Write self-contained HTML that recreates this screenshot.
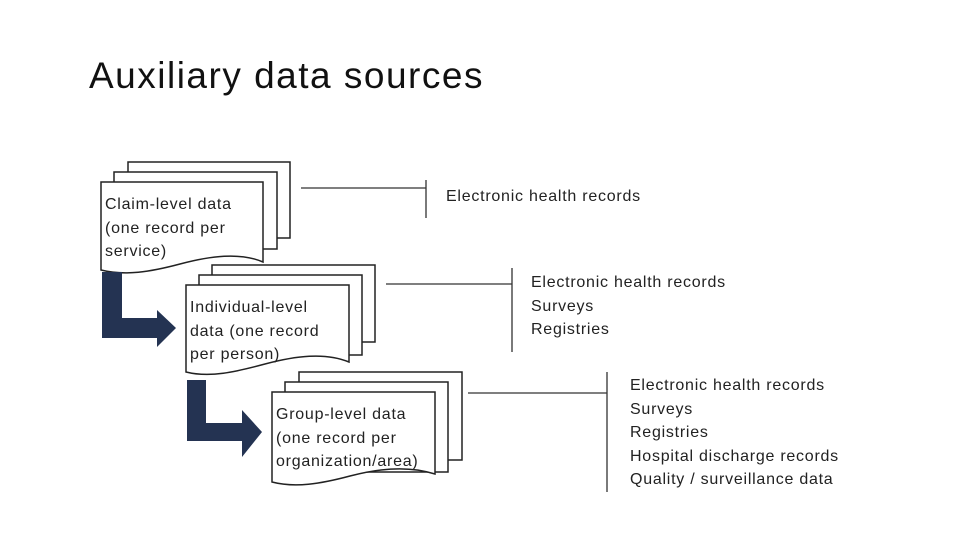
<!DOCTYPE html>
<html><head><meta charset="utf-8"><style>
body{margin:0;width:960px;height:540px;background:#fff;overflow:hidden;font-family:"Liberation Sans",sans-serif}
.t{position:absolute;color:#222;font-size:16px;line-height:23.5px;letter-spacing:0.75px;white-space:nowrap}
</style></head><body>
<div class="t" style="left:89px;top:54px;font-size:37px;line-height:44px;color:#111;letter-spacing:1.5px">Auxiliary data sources</div>
<svg width="960" height="540" style="position:absolute;left:0;top:0" fill="#fff" stroke="#222" stroke-width="1.5">
<path d="M128 162H290V238H128Z"/>
<path d="M114 172H277V249H114Z"/>
<path d="M101 182H263V262C240 252 210 256 180 264C150 272 125 276 101 270Z"/>
<path d="M212 265H375V342H212Z"/>
<path d="M199 275H362V355H199Z"/>
<path d="M186 285H349V362C325 352 295 356 265 364C235 372 210 378 186 372Z"/>
<path d="M299 372H462V460H299Z"/>
<path d="M285 382H448V472H285Z"/>
<path d="M272 392H435V474C410 466 380 468 350 476C320 484 295 488 272 482Z"/>
<path fill="#243352" stroke="none" d="M102 272H122V318H157V310L176 328L157 347V338H102Z"/>
<path fill="#243352" stroke="none" d="M187 380H206V423H242V410L262 432L242 457V441H187Z"/>
<g stroke="#333" stroke-width="1.3" fill="none">
<path d="M301 188H426M426 180V218"/>
<path d="M386 284H512M512 268V352"/>
<path d="M468 393H607M607 372V492"/>
</g>
</svg>
<div class="t" style="left:105px;top:193px">Claim-level data<br>(one record per<br>service)</div>
<div class="t" style="left:190px;top:296px">Individual-level<br>data (one record<br>per person)</div>
<div class="t" style="left:276px;top:403px">Group-level data<br>(one record per<br>organization/area)</div>
<div class="t" style="left:446px;top:185px">Electronic health records</div>
<div class="t" style="left:531px;top:271px">Electronic health records<br>Surveys<br>Registries</div>
<div class="t" style="left:630px;top:374px">Electronic health records<br>Surveys<br>Registries<br>Hospital discharge records<br>Quality / surveillance data</div>
</body></html>
